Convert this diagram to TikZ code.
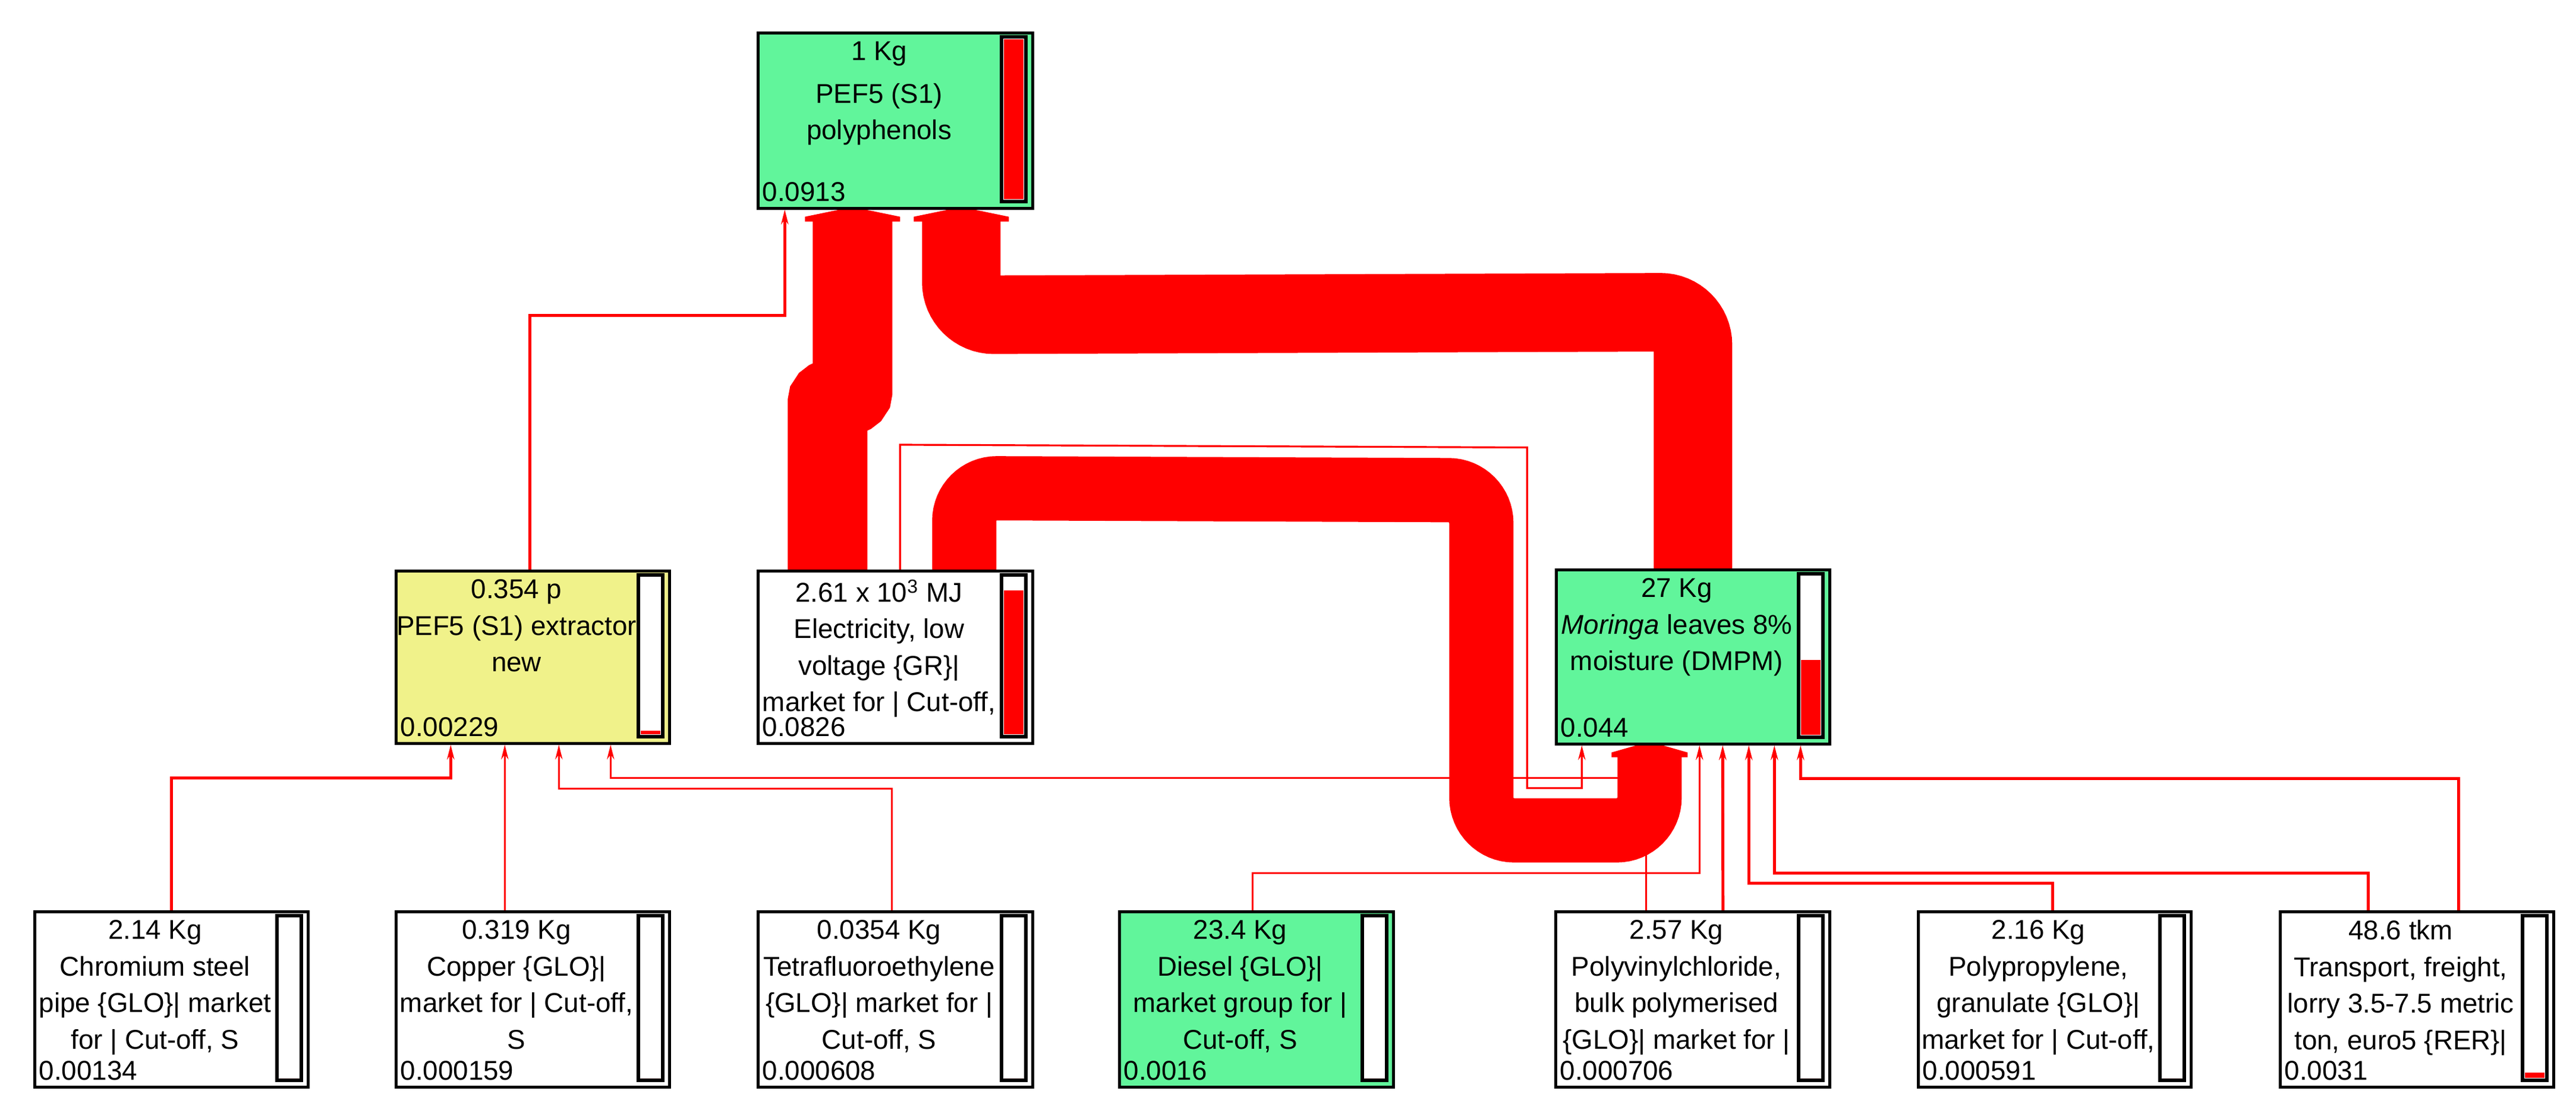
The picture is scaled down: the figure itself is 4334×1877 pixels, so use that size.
\documentclass[tikz,border=0pt]{standalone}
\usepackage{fontspec}
\setmainfont{Liberation Sans}
\usetikzlibrary{calc,arrows.meta}
\definecolor{pgreen}{HTML}{61F59B}
\definecolor{pyellow}{HTML}{F0F28A}
\pgfdeclarelayer{bg}
\pgfsetlayers{bg,main}
\tikzset{
  box/.style={draw=black, line width=1.3pt, inner sep=0pt, anchor=north west},
  lbl/.style={anchor=north, align=center, inner sep=0pt, font=\fontsize{13}{17.5}\selectfont},
  val/.style={anchor=south west, inner sep=2pt, font=\fontsize{13}{15}\selectfont},
  thin/.style={draw=red, line width=0.9pt, -{Stealth[length=7pt,width=3.5pt]}},
  mid/.style={thin, line width=1.4pt},
  band/.style={draw=red, rounded corners=0.55cm},
}
\newcommand\pbox[9]{%
  \node[box, fill=#6, minimum width={(#4-#2)*0.01cm}, minimum height={(#5-#3)*0.01cm}] (#1) at (#2,#3) {};
  \draw[fill=white, line width=1.6pt] (#4-50,#3+9) rectangle (#4-9,#5-9);
  \fill[red] (#4-46,#7) rectangle (#4-13,#5-13);
  \node[lbl] at ({(#2+#4-50)/2},#3+16) {#8};
  \node[val] at (#2+2,#5-1) {#9};
}
\newcommand\bighead[2]{%
  \fill[red] ($(#1)+(-#2,20)$) -- ($(#1)+(-#2,12)$) -- ($(#1)+(-22,0)$) -- ($(#1)+(22,0)$) -- ($(#1)+(#2,12)$) -- ($(#1)+(#2,20)$) -- cycle;}
\begin{document}
\begin{tikzpicture}[x=0.01cm,y=-0.01cm]
\useasboundingbox (0,0) rectangle (4334,1877);
\pbox{top}{1273}{53}{1735}{348}{pgreen}{66}{1 Kg\\[3pt]PEF5 (S1)\\polyphenols}{0.0913}
\pbox{extr}{664}{958}{1124}{1248}{pyellow}{1229}{0.354 p\\PEF5 (S1) extractor\\new}{0.00229}
\pbox{elec}{1273}{958}{1735}{1248}{white}{993}{2.61 x 10\textsuperscript{3} MJ\\Electricity, low\\voltage \{GR\}|\\market for | Cut-off,}{0.0826}
\pbox{mor}{2616}{956}{3076}{1249}{pgreen}{1110}{27 Kg\\\textit{Moringa} leaves 8\%\\moisture (DMPM)}{0.044}
\pbox{b1}{56}{1531}{516}{1826}{white}{1813}{2.14 Kg\\Chromium steel\\pipe \{GLO\}| market\\for | Cut-off, S}{0.00134}
\pbox{b2}{664}{1531}{1124}{1826}{white}{1813}{0.319 Kg\\Copper \{GLO\}|\\market for | Cut-off,\\S}{0.000159}
\pbox{b3}{1273}{1531}{1735}{1826}{white}{1813}{0.0354 Kg\\Tetrafluoroethylene\\\{GLO\}| market for |\\Cut-off, S}{0.000608}
\pbox{b4}{1881}{1531}{2342}{1826}{pgreen}{1813}{23.4 Kg\\Diesel \{GLO\}|\\market group for |\\Cut-off, S}{0.0016}
\pbox{b5}{2615}{1531}{3076}{1826}{white}{1813}{2.57 Kg\\Polyvinylchloride,\\bulk polymerised\\\{GLO\}| market for |}{0.000706}
\pbox{b6}{3225}{1531}{3684}{1826}{white}{1813}{2.16 Kg\\Polypropylene,\\granulate \{GLO\}|\\market for | Cut-off,}{0.000591}
\pbox{b7}{3834}{1531}{4294}{1826}{white}{1804}{48.6 tkm\\Transport, freight,\\lorry 3.5-7.5 metric\\ton, euro5 \{RER\}|}{0.0031}
\begin{pgfonlayer}{bg}
% thin connectors
\draw[mid] (b1.north) |- ($(extr.south)+(-138,56)$) -- ($(extr.south)+(-138,0)$);
\draw[thin] ($(b2.north)+(-47,0)$) -- ($(extr.south)+(-47,0)$);
\draw[thin] ($(b3.north)+(-6,0)$) |- ($(extr.south)+(44,74)$) -- ($(extr.south)+(44,0)$);
\coordinate (tx) at ($(mor.south)+(-73,55)$);
\draw[thin] (tx) -- ($(extr.south)+(131,56)$) -- ($(extr.south)+(131,0)$);
\draw[mid] ($(extr.north)+(-5,0)$) |- ($(top.south)+(-186,178)$) -- ($(top.south)+(-186,0)$);
\draw[thin] ($(elec.north)+(8,0)$) -- ($(elec.north)+(8,-210)$) -- ($(mor.south)+(-279,-501)$) -- ($(mor.south)+(-279,72)$) -- ($(mor.south)+(-187,72)$) -- ($(mor.south)+(-187,0)$);
\draw[thin] ($(b4.north)+(-6,0)$) |- ($(mor.south)+(11,215)$) -- ($(mor.south)+(11,0)$);
\coordinate (pv) at ($(b5.north)+(-78,-110)$);
\draw[draw=red, line width=0.9pt] ($(b5.north)+(-78,0)$) -- (pv);
\draw[mid] ($(b5.north)+(51,0)$) -- ($(mor.south)+(50,0)$);
\draw[mid] ($(b6.north)+(-3,0)$) |- ($(mor.south)+(94,232)$) -- ($(mor.south)+(94,0)$);
\draw[mid] ($(b7.north)+(-82,0)$) |- ($(mor.south)+(137,215)$) -- ($(mor.south)+(137,0)$);
\draw[mid] ($(b7.north)+(70,0)$) |- ($(mor.south)+(181,56)$) -- ($(mor.south)+(181,0)$);
% thick flows
\draw[band, line width=1.34cm] ($(elec.north)+(-114,0)$) -- ($(elec.north)+(-114,-225)$) .. controls +(0,-70) and +(0,70) .. ($(top.south)+(-72,250)$) -- ($(top.south)+(-72,18)$);
\draw[band, line width=1.32cm] (mor.north) -- ($(mor.north)+(0,-431)$) -- ($(top.south)+(111,177)$) -- ($(top.south)+(111,18)$);
\draw[band, line width=1.08cm] ($(elec.north)+(116,0)$) -- ($(elec.north)+(116,-137)$) -- ($(mor.south)+(-356,-429)$) -- ($(mor.south)+(-356,143)$) -- ($(mor.south)+(-73,143)$) -- ($(mor.south)+(-73,18)$);
\coordinate (h1) at ($(top.south)+(-72,0)$);
\coordinate (h2) at ($(top.south)+(111,0)$);
\coordinate (h3) at ($(mor.south)+(-73,0)$);
\bighead{h1}{80}
\bighead{h2}{80}
\bighead{h3}{64}
\end{pgfonlayer}
\end{tikzpicture}
\end{document}
